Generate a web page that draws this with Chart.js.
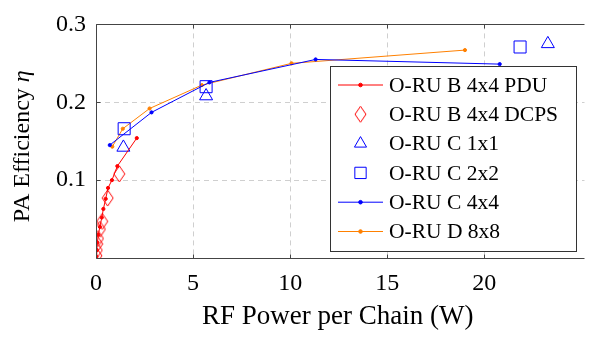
<!DOCTYPE html>
<html lang="en">
<head>
    <meta charset="UTF-8">
    <title>PA Efficiency vs RF Power</title>
    <style>
        body { margin: 0; background: #fff; }
        #wrap { position: relative; width: 589px; height: 337px; }
    </style>
</head>
<body>
    <div id="wrap"><canvas id="paChart"></canvas></div>
    <script src="https://cdn.jsdelivr.net/npm/chart.js"></script>
    <script>
        // values
        const xTicks = [0, 5, 10, 15, 20];
        const yTicks = [0.1, 0.2, 0.3];

        const bPduX = [0.02, 0.04, 0.07, 0.12, 0.2, 0.3, 0.38, 0.5, 0.62, 0.82, 1.1, 2.1];
        const bPduY = [0.002, 0.01, 0.02, 0.03, 0.04, 0.052, 0.063, 0.076, 0.09, 0.1, 0.118, 0.154];

        const bDcpsX = [0.02, 0.04, 0.06, 0.1, 0.2, 0.32, 0.6, 1.2];
        const bDcpsY = [0.003, 0.01, 0.018, 0.025, 0.037, 0.047, 0.077, 0.108];

        const c1x1X = [1.41, 5.67, 23.27];
        const c1x1Y = [0.142, 0.208, 0.275];

        const c2x2X = [1.45, 5.67, 21.84];
        const c2x2Y = [0.166, 0.22, 0.271];

        const c4x4X = [0.71, 2.86, 5.84, 11.31, 20.79];
        const c4x4Y = [0.145, 0.187, 0.2255, 0.255, 0.249];

        const d8x8X = [0.84, 1.38, 2.76, 5.45, 10.07, 19.0];
        const d8x8Y = [0.143, 0.166, 0.192, 0.222, 0.25, 0.267];

        const pts = (xs, ys) => xs.map((x, i) => ({ x: x, y: ys[i] }));

        const RED = '#ff0000';
        const BLUE = '#0000ff';
        const ORANGE = '#ff8000';
        const NONE = 'rgba(0,0,0,0)';
        const SERIF = '"Liberation Serif", "DejaVu Serif", serif';

        // tall pgfplots-style diamond marker
        function diamondMarker(color) {
            const c = document.createElement('canvas');
            c.width = 13; c.height = 18;
            const g = c.getContext('2d');
            g.strokeStyle = color;
            g.lineWidth = 1;
            g.beginPath();
            g.moveTo(6.5, 1); g.lineTo(12, 9); g.lineTo(6.5, 17); g.lineTo(1, 9);
            g.closePath();
            g.stroke();
            return c;
        }
        const redDiamond = diamondMarker(RED);

        // dashed grid, frame and inward tick marks like pgfplots
        const framePlugin = {
            id: 'frame',
            beforeDatasetsDraw(chart) {
                const { ctx, chartArea: a, scales } = chart;
                ctx.save();
                ctx.strokeStyle = '#cfcfcf';
                ctx.lineWidth = 1;
                ctx.setLineDash([5, 4]);
                ctx.beginPath();
                xTicks.slice(1).forEach(v => {
                    const px = Math.round(scales.x.getPixelForValue(v)) + 0.5;
                    ctx.moveTo(px, a.top); ctx.lineTo(px, a.bottom);
                });
                yTicks.slice(0, -1).forEach(v => {
                    const py = Math.round(scales.y.getPixelForValue(v)) + 0.5;
                    ctx.moveTo(a.left, py); ctx.lineTo(a.right + 5, py);
                });
                ctx.stroke();
                ctx.restore();
            },
            afterDatasetsDraw(chart) {
                const { ctx, chartArea: a, scales } = chart;
                const l = Math.round(a.left) + 0.5, t = Math.round(a.top) + 0.5, b = Math.round(a.bottom) + 0.5;
                ctx.save();
                ctx.strokeStyle = '#444';
                ctx.lineWidth = 1;
                ctx.beginPath();
                ctx.moveTo(l, t); ctx.lineTo(a.right + 5, t);
                ctx.moveTo(l, t); ctx.lineTo(l, b);
                ctx.moveTo(l, b); ctx.lineTo(a.right + 5, b);
                xTicks.forEach(v => {
                    const px = Math.round(scales.x.getPixelForValue(v)) + 0.5;
                    ctx.moveTo(px, b); ctx.lineTo(px, b - 4);
                    ctx.moveTo(px, t); ctx.lineTo(px, t + 4);
                });
                yTicks.forEach(v => {
                    const py = Math.round(scales.y.getPixelForValue(v)) + 0.5;
                    ctx.moveTo(l, py); ctx.lineTo(l + 4, py);
                });
                ctx.stroke();

                // y axis title, with an italic eta
                const cy = (a.top + a.bottom) / 2 + 5;
                ctx.translate(23, cy);
                ctx.rotate(-Math.PI / 2);
                ctx.fillStyle = '#000';
                ctx.textBaseline = 'middle';
                const part1 = 'PA Efficiency ';
                const part2 = 'η';
                ctx.font = '24px ' + SERIF;
                const w1 = ctx.measureText(part1).width;
                ctx.font = 'italic 24px ' + SERIF;
                const w2 = ctx.measureText(part2).width;
                const x0 = -(w1 + w2) / 2;
                ctx.font = '24px ' + SERIF;
                ctx.fillText(part1, x0, 0);
                ctx.font = 'italic 24px ' + SERIF;
                ctx.fillText(part2, x0 + w1, 0);
                ctx.restore();
            }
        };

        // legend box drawn inside the plot
        const legendPlugin = {
            id: 'boxLegend',
            afterDraw(chart) {
                const { ctx } = chart;
                const box = { l: 330.5, t: 66.5, w: 246, h: 185 };
                ctx.save();
                ctx.fillStyle = '#fff';
                ctx.fillRect(box.l, box.t, box.w, box.h);
                ctx.strokeStyle = '#333';
                ctx.lineWidth = 1;
                ctx.strokeRect(box.l, box.t, box.w, box.h);
                ctx.font = '21.5px ' + SERIF;
                ctx.textBaseline = 'middle';
                chart.data.datasets.forEach((ds, i) => {
                    const y = 85 + i * 29.3;
                    ctx.strokeStyle = ds.borderColor;
                    ctx.lineWidth = 1;
                    if (ds.showLine) {
                        ctx.beginPath();
                        ctx.moveTo(338, y); ctx.lineTo(383, y);
                        ctx.stroke();
                    }
                    ctx.fillStyle = ds.pointBackgroundColor;
                    Chart.helpers.drawPoint(ctx, {
                        pointStyle: ds.pointStyle,
                        radius: ds.legendRadius,
                        borderWidth: 1,
                        rotation: 0
                    }, 360.5, y);
                    ctx.fillStyle = '#000';
                    ctx.fillText(ds.label, 389, y + 1);
                });
                ctx.restore();
            }
        };

        const ctx = document.getElementById('paChart').getContext('2d');
        new Chart(ctx, {
            type: 'scatter',
            data: {
                datasets: [
                    {
                        label: 'O-RU B 4x4 PDU',
                        data: pts(bPduX, bPduY),
                        showLine: true,
                        borderColor: RED,
                        backgroundColor: RED,
                        pointBackgroundColor: RED,
                        borderWidth: 1,
                        pointStyle: 'circle',
                        pointRadius: 1.6,
                        legendRadius: 1.8
                    },
                    {
                        label: 'O-RU B 4x4 DCPS',
                        data: pts(bDcpsX, bDcpsY),
                        showLine: false,
                        borderColor: RED,
                        backgroundColor: NONE,
                        pointBackgroundColor: NONE,
                        borderWidth: 1,
                        pointStyle: redDiamond,
                        pointRadius: 6,
                        legendRadius: 6
                    },
                    {
                        label: 'O-RU C 1x1',
                        data: pts(c1x1X, c1x1Y),
                        showLine: false,
                        borderColor: BLUE,
                        backgroundColor: NONE,
                        pointBackgroundColor: NONE,
                        borderWidth: 1,
                        pointStyle: 'triangle',
                        pointRadius: 7.5,
                        legendRadius: 7
                    },
                    {
                        label: 'O-RU C 2x2',
                        data: pts(c2x2X, c2x2Y),
                        showLine: false,
                        borderColor: BLUE,
                        backgroundColor: NONE,
                        pointBackgroundColor: NONE,
                        borderWidth: 1,
                        pointStyle: 'rect',
                        pointRadius: 8.5,
                        legendRadius: 8
                    },
                    {
                        label: 'O-RU C 4x4',
                        data: pts(c4x4X, c4x4Y),
                        showLine: true,
                        borderColor: BLUE,
                        backgroundColor: BLUE,
                        pointBackgroundColor: BLUE,
                        borderWidth: 1,
                        pointStyle: 'circle',
                        pointRadius: 1.6,
                        legendRadius: 1.8
                    },
                    {
                        label: 'O-RU D 8x8',
                        data: pts(d8x8X, d8x8Y),
                        showLine: true,
                        borderColor: ORANGE,
                        backgroundColor: ORANGE,
                        pointBackgroundColor: ORANGE,
                        borderWidth: 1,
                        pointStyle: 'circle',
                        pointRadius: 1.6,
                        legendRadius: 1.8
                    }
                ]
            },
            options: {
                responsive: true,
                maintainAspectRatio: false,
                animation: false,
                layout: { padding: { top: 15, right: 0, left: 0, bottom: 0 } },
                plugins: {
                    legend: { display: false },
                    tooltip: { enabled: false }
                },
                elements: { line: { tension: 0 } },
                scales: {
                    x: {
                        type: 'linear',
                        min: 0,
                        max: 24.9,
                        afterBuildTicks: s => { s.ticks = xTicks.map(v => ({ value: v })); },
                        afterFit: s => { s.height = 79; },
                        border: { display: false },
                        grid: { display: false, drawTicks: false },
                        ticks: {
                            padding: 11,
                            color: '#000',
                            font: { family: SERIF, size: 24 },
                            maxRotation: 0
                        },
                        title: {
                            display: true,
                            text: 'RF Power per Chain (W)',
                            color: '#000',
                            font: { family: SERIF, size: 27 },
                            padding: { top: 0, bottom: 4 }
                        }
                    },
                    y: {
                        type: 'linear',
                        min: 0,
                        max: 0.3,
                        afterBuildTicks: s => { s.ticks = yTicks.map(v => ({ value: v })); },
                        afterFit: s => { s.width = 96; },
                        border: { display: false },
                        grid: { display: false, drawTicks: false },
                        ticks: {
                            padding: 10,
                            color: '#000',
                            font: { family: SERIF, size: 24 },
                            callback: v => v.toFixed(1)
                        },
                        title: { display: false }
                    }
                }
            },
            plugins: [framePlugin, legendPlugin]
        });
    </script>
</body>
</html>
